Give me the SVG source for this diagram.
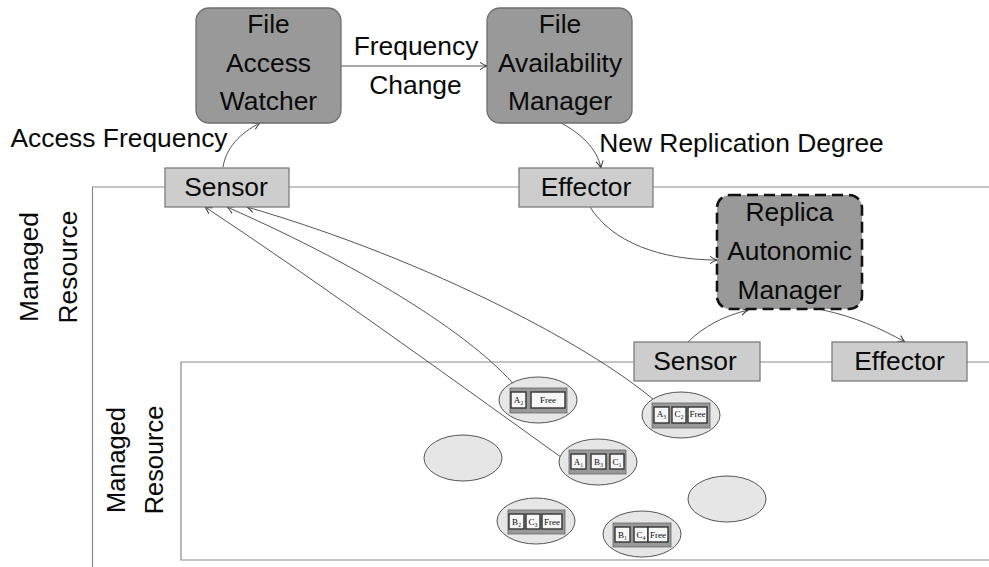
<svg xmlns="http://www.w3.org/2000/svg" width="989" height="567" viewBox="0 0 989 567">
<defs>
<marker id="a" viewBox="-9 -5 10 10" markerWidth="10" markerHeight="10" refX="0" refY="0" orient="auto" markerUnits="userSpaceOnUse"><path d="M-7,-3.6 Q-3,-1 0,0 Q-3,1 -7,3.6" fill="none" stroke="#333" stroke-width="1"/></marker>
</defs>
<style>
text{font-family:"Liberation Sans",Arial,sans-serif;fill:#0a0a0a;text-anchor:middle}
.l{font-size:26.400px}
.s{font-size:25.400px}
.boundary{fill:none;stroke:#8a8a8a;stroke-width:1.2}
.mgr{fill:#999;stroke:#6e6e6e;stroke-width:1.3}
.dash{fill:#999;stroke:#111;stroke-width:2.6;stroke-dasharray:11 6}
.tp{fill:#cdcdcd;stroke:#7d7d7d;stroke-width:1.3}
.conn{fill:none;stroke:#555;stroke-width:1;marker-end:url(#a)}
.host{fill:#e6e6e6;stroke:#555;stroke-width:1}
.tray{fill:#999;stroke:#666;stroke-width:.8}
.cell{fill:#f6f6f6;stroke:#333;stroke-width:1.400}
.c{font-family:"Liberation Serif",serif;font-size:9px}
</style>
<g id="boundaries">
<path class="boundary" d="M989,187H92.500V567"/>
<path class="boundary" d="M989,362H181V560H989"/>
</g>
<g id="connectors">
<path class="conn" d="M223,167C226,148 240,133 260,123"/>
<path class="conn" d="M341,66H487"/>
<path class="conn" d="M561,123C580,133 597,148 601,168"/>
<path class="conn" d="M590,207C612,242 660,260 717,260"/>
<path class="conn" d="M688,342C704,326 724,316 748,310"/>
<path class="conn" d="M823,310C855,317 880,328 905,342"/>
<path class="conn" d="M521,393C480,340 370,270 227,207"/>
<path class="conn" d="M572,465C470,392 320,283 205,207"/>
<path class="conn" d="M662,407C600,350 430,260 247,207"/>
</g>
<g id="file-access-watcher"><rect class="mgr" x="196" y="8" width="145" height="115" rx="13"/><text class="l" x="268.500" y="33">File</text><text class="l" x="268.500" y="72">Access</text><text class="l" x="268.500" y="110">Watcher</text></g>
<g id="file-availability-manager"><rect class="mgr" x="487" y="8" width="145" height="115" rx="13"/><text class="l" x="560" y="33">File</text><text class="l" x="560" y="72">Availability</text><text class="l" x="560" y="110">Manager</text></g>
<g id="replica-autonomic-manager"><rect class="dash" x="717" y="195" width="145" height="114" rx="13"/><text class="l" x="789.500" y="221">Replica</text><text class="l" x="789.500" y="260">Autonomic</text><text class="l" x="789.500" y="299">Manager</text></g>
<g id="sensor-top"><rect class="tp" x="165" y="168" width="124" height="39"/><text class="l" x="226" y="196">Sensor</text></g>
<g id="effector-top"><rect class="tp" x="519" y="168" width="134" height="39"/><text class="l" x="586" y="196">Effector</text></g>
<g id="sensor-inner"><rect class="tp" x="634" y="342" width="126" height="39"/><text class="l" x="695" y="370">Sensor</text></g>
<g id="effector-inner"><rect class="tp" x="832" y="342" width="135" height="39"/><text class="l" x="899.500" y="370">Effector</text></g>
<g id="labels">
<text class="l" x="416" y="55">Frequency</text><text class="l" x="415.500" y="94">Change</text>
<text class="l" x="119" y="147">Access Frequency</text>
<text class="l" x="741.500" y="152">New Replication Degree</text>
<text class="l" transform="translate(38,267) rotate(-90)">Managed</text>
<text class="l" transform="translate(77,267) rotate(-90)">Resource</text>
<text class="s" transform="translate(125,460) rotate(-90)">Managed</text>
<text class="s" transform="translate(163,460) rotate(-90)">Resource</text>
</g>
<g id="host-empty-1"><ellipse class="host" cx="463" cy="458" rx="39" ry="23"/></g>
<g id="host-empty-2"><ellipse class="host" cx="727" cy="499" rx="39" ry="23"/></g>
<g id="host-a2"><ellipse class="host" cx="538" cy="400" rx="39" ry="23"/><rect class="tray" x="510" y="388" width="57" height="25"/><rect class="cell" x="511" y="392" width="15" height="16"/><rect class="cell" x="531" y="392" width="34" height="16"/><text class="c" x="518.500" y="403">A₂</text><text class="c" x="548" y="403">Free</text></g>
<g id="host-a3"><ellipse class="host" cx="681" cy="415" rx="39" ry="23"/><rect class="tray" x="652" y="403" width="58" height="25"/><rect class="cell" x="654" y="407" width="15" height="16"/><rect class="cell" x="672" y="407" width="14" height="16"/><rect class="cell" x="688" y="407" width="19" height="16"/><text class="c" x="661.500" y="417">A₃</text><text class="c" x="679" y="417">C₂</text><text class="c" x="697.500" y="417">Free</text></g>
<g id="host-a1"><ellipse class="host" cx="598" cy="462" rx="39" ry="23"/><rect class="tray" x="569" y="450" width="57" height="24"/><rect class="cell" x="571" y="454" width="15" height="15"/><rect class="cell" x="591" y="454" width="15" height="15"/><rect class="cell" x="610" y="454" width="14" height="15"/><text class="c" x="578.500" y="465">A₁</text><text class="c" x="598.500" y="465">B₃</text><text class="c" x="617" y="465">C₁</text></g>
<g id="host-b2"><ellipse class="host" cx="536" cy="521" rx="39" ry="23"/><rect class="tray" x="508" y="510" width="57" height="24"/><rect class="cell" x="509" y="514" width="15" height="15"/><rect class="cell" x="526" y="514" width="14" height="15"/><rect class="cell" x="542" y="514" width="20" height="15"/><text class="c" x="516.500" y="525">B₂</text><text class="c" x="533" y="525">C₃</text><text class="c" x="552" y="525">Free</text></g>
<g id="host-b1"><ellipse class="host" cx="642" cy="534" rx="39" ry="23"/><rect class="tray" x="613" y="523" width="58" height="24"/><rect class="cell" x="615" y="527" width="15" height="15"/><rect class="cell" x="634" y="527" width="14" height="15"/><rect class="cell" x="648" y="527" width="20" height="15"/><text class="c" x="622.500" y="538">B₁</text><text class="c" x="641" y="538">C₄</text><text class="c" x="658" y="538">Free</text></g>
</svg>
